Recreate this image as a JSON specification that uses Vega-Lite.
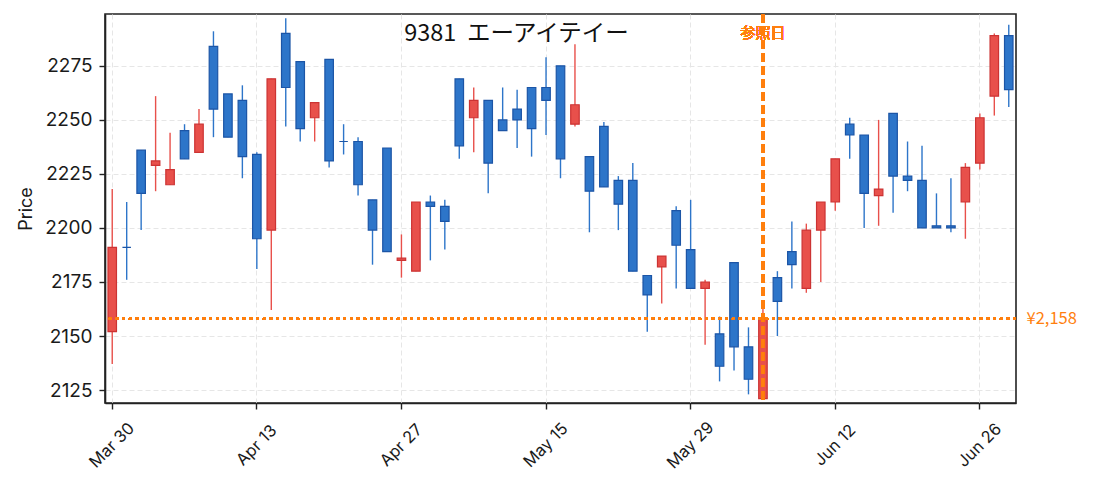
{
  "$schema": "https://vega.github.io/schema/vega-lite/v6.json",
  "width": 911,
  "height": 389,
  "autosize": "none",
  "padding": {"left": 105, "top": 14, "right": 79, "bottom": 89},
  "background": "white",
  "config": {
    "font": "Noto Sans CJK JP",
    "view": {"stroke": "#222222", "strokeWidth": 1.6},
    "axis": {
      "labelFont": "Inter",
      "titleFont": "Inter",
      "labelFontSize": 19,
      "labelColor": "#1a1a1a",
      "tickColor": "#222222",
      "domainColor": "#222222",
      "tickSize": 6,
      "tickWidth": 1.4,
      "domainWidth": 1.6,
      "gridColor": "#e6e6e6",
      "gridDash": [5, 3],
      "gridWidth": 1
    }
  },
  "title": {
    "text": "9381\u00a0\u00a0エーアイテイー",
    "font": "Noto Sans CJK JP",
    "fontSize": 23.5,
    "fontWeight": "normal",
    "color": "#111111",
    "anchor": "middle",
    "baseline": "middle",
    "offset": 0,
    "dy": 45,
    "dx": -44
  },
  "data": {
    "values": [
      {"date": "2020-03-30", "open": 2152, "high": 2218, "low": 2137, "close": 2191},
      {"date": "2020-03-31", "open": 2191, "high": 2212, "low": 2176, "close": 2191},
      {"date": "2020-04-01", "open": 2236, "high": 2236, "low": 2199, "close": 2216},
      {"date": "2020-04-02", "open": 2229, "high": 2261, "low": 2217, "close": 2231},
      {"date": "2020-04-03", "open": 2220, "high": 2244, "low": 2220, "close": 2227},
      {"date": "2020-04-06", "open": 2245, "high": 2248, "low": 2232, "close": 2232},
      {"date": "2020-04-07", "open": 2235, "high": 2255, "low": 2235, "close": 2248},
      {"date": "2020-04-08", "open": 2284, "high": 2291, "low": 2242, "close": 2255},
      {"date": "2020-04-09", "open": 2262, "high": 2262, "low": 2242, "close": 2242},
      {"date": "2020-04-10", "open": 2259, "high": 2266, "low": 2223, "close": 2233},
      {"date": "2020-04-13", "open": 2234, "high": 2235, "low": 2181, "close": 2195},
      {"date": "2020-04-14", "open": 2199, "high": 2269, "low": 2162, "close": 2269},
      {"date": "2020-04-15", "open": 2290, "high": 2297, "low": 2247, "close": 2265},
      {"date": "2020-04-16", "open": 2277, "high": 2277, "low": 2240, "close": 2246},
      {"date": "2020-04-17", "open": 2251, "high": 2258, "low": 2240, "close": 2258},
      {"date": "2020-04-20", "open": 2278, "high": 2278, "low": 2228, "close": 2231},
      {"date": "2020-04-21", "open": 2240, "high": 2248, "low": 2234, "close": 2240},
      {"date": "2020-04-22", "open": 2240, "high": 2242, "low": 2215, "close": 2220},
      {"date": "2020-04-23", "open": 2213, "high": 2213, "low": 2183, "close": 2199},
      {"date": "2020-04-24", "open": 2237, "high": 2237, "low": 2189, "close": 2189},
      {"date": "2020-04-27", "open": 2185, "high": 2197, "low": 2177, "close": 2186},
      {"date": "2020-04-28", "open": 2180, "high": 2212, "low": 2180, "close": 2212},
      {"date": "2020-04-30", "open": 2212, "high": 2215, "low": 2185, "close": 2210},
      {"date": "2020-05-01", "open": 2210, "high": 2213, "low": 2190, "close": 2203},
      {"date": "2020-05-07", "open": 2269, "high": 2269, "low": 2232, "close": 2238},
      {"date": "2020-05-08", "open": 2251, "high": 2265, "low": 2235, "close": 2259},
      {"date": "2020-05-11", "open": 2259, "high": 2259, "low": 2216, "close": 2230},
      {"date": "2020-05-12", "open": 2250, "high": 2265, "low": 2245, "close": 2245},
      {"date": "2020-05-13", "open": 2255, "high": 2264, "low": 2237, "close": 2250},
      {"date": "2020-05-14", "open": 2265, "high": 2265, "low": 2233, "close": 2246},
      {"date": "2020-05-15", "open": 2265, "high": 2279, "low": 2243, "close": 2259},
      {"date": "2020-05-18", "open": 2275, "high": 2275, "low": 2223, "close": 2232},
      {"date": "2020-05-19", "open": 2248, "high": 2285, "low": 2247, "close": 2257},
      {"date": "2020-05-20", "open": 2233, "high": 2233, "low": 2198, "close": 2217},
      {"date": "2020-05-21", "open": 2247, "high": 2249, "low": 2219, "close": 2219},
      {"date": "2020-05-22", "open": 2222, "high": 2224, "low": 2199, "close": 2211},
      {"date": "2020-05-25", "open": 2222, "high": 2230, "low": 2180, "close": 2180},
      {"date": "2020-05-26", "open": 2178, "high": 2178, "low": 2152, "close": 2169},
      {"date": "2020-05-27", "open": 2182, "high": 2187, "low": 2165, "close": 2187},
      {"date": "2020-05-28", "open": 2208, "high": 2210, "low": 2172, "close": 2192},
      {"date": "2020-05-29", "open": 2190, "high": 2213, "low": 2172, "close": 2172},
      {"date": "2020-06-01", "open": 2172, "high": 2176, "low": 2146, "close": 2175},
      {"date": "2020-06-02", "open": 2151, "high": 2159, "low": 2129, "close": 2136},
      {"date": "2020-06-03", "open": 2184, "high": 2184, "low": 2134, "close": 2145},
      {"date": "2020-06-04", "open": 2145, "high": 2154, "low": 2123, "close": 2130},
      {"date": "2020-06-05", "open": 2121, "high": 2164, "low": 2121, "close": 2158},
      {"date": "2020-06-08", "open": 2177, "high": 2180, "low": 2150, "close": 2166},
      {"date": "2020-06-09", "open": 2189, "high": 2203, "low": 2172, "close": 2183},
      {"date": "2020-06-10", "open": 2172, "high": 2202, "low": 2170, "close": 2199},
      {"date": "2020-06-11", "open": 2199, "high": 2212, "low": 2175, "close": 2212},
      {"date": "2020-06-12", "open": 2212, "high": 2232, "low": 2208, "close": 2232},
      {"date": "2020-06-15", "open": 2248, "high": 2251, "low": 2232, "close": 2243},
      {"date": "2020-06-16", "open": 2243, "high": 2243, "low": 2200, "close": 2216},
      {"date": "2020-06-17", "open": 2215, "high": 2250, "low": 2201, "close": 2218},
      {"date": "2020-06-18", "open": 2253, "high": 2253, "low": 2207, "close": 2224},
      {"date": "2020-06-19", "open": 2224, "high": 2240, "low": 2217, "close": 2222},
      {"date": "2020-06-22", "open": 2222, "high": 2238, "low": 2200, "close": 2200},
      {"date": "2020-06-23", "open": 2201, "high": 2216, "low": 2200, "close": 2200},
      {"date": "2020-06-24", "open": 2201, "high": 2223, "low": 2198, "close": 2200},
      {"date": "2020-06-25", "open": 2212, "high": 2230, "low": 2195, "close": 2228},
      {"date": "2020-06-26", "open": 2230, "high": 2253, "low": 2227, "close": 2251},
      {"date": "2020-06-29", "open": 2261, "high": 2290, "low": 2252, "close": 2289},
      {"date": "2020-06-30", "open": 2289, "high": 2294, "low": 2256, "close": 2264}
    ]
  },
  "layer": [
    {
      "mark": {"type": "rule", "strokeWidth": 1.4},
      "encoding": {
        "x": {
          "field": "date",
          "type": "ordinal",
          "sort": null,
          "scale": {"type": "band", "paddingInner": 0, "paddingOuter": 0},
          "axis": {
            "title": null,
            "values": ["2020-03-30", "2020-04-13", "2020-04-27", "2020-05-15", "2020-05-29", "2020-06-12", "2020-06-26"],
            "labelExpr": "utcFormat(toDate(datum.value), '%b %d')",
            "labelAngle": -45,
            "labelAlign": "center",
            "labelBaseline": "middle",
            "labelFontSize": 16.5,
            "labelPadding": 36,
            "bandPosition": 0.5,
            "grid": true
          }
        },
        "y": {
          "field": "low",
          "type": "quantitative",
          "scale": {"domain": [2119, 2299], "nice": false, "zero": false},
          "axis": {
            "title": "Price",
            "titleFontSize": 18,
            "titleFontWeight": "normal",
            "titleColor": "#1a1a1a",
            "titlePadding": 9,
            "format": "d",
            "labelPadding": 7,
            "values": [2125, 2150, 2175, 2200, 2225, 2250, 2275],
            "grid": true
          }
        },
        "y2": {"field": "high"},
        "color": {
          "condition": {"test": "datum.close > datum.open", "value": "#e8504b"},
          "value": "#2d75c9"
        }
      }
    },
    {
      "mark": {"type": "bar", "width": 8.5, "strokeWidth": 1.2},
      "encoding": {
        "x": {"field": "date", "type": "ordinal", "sort": null},
        "y": {"field": "open", "type": "quantitative", "axis": null},
        "y2": {"field": "close"},
        "fill": {
          "condition": {"test": "datum.close > datum.open", "value": "#e8504b"},
          "value": "#2d75c9"
        },
        "stroke": {
          "condition": {"test": "datum.close > datum.open", "value": "#cc3333"},
          "value": "#1c55a6"
        }
      }
    },
    {
      "mark": {"type": "rule", "color": "#ff7f0e", "strokeWidth": 1.8, "strokeDash": [2.7, 4]},
      "encoding": {
        "y": {
          "datum": 2158,
          "type": "quantitative",
          "axis": {
            "orient": "right",
            "title": null,
            "values": [2158],
            "labelExpr": "'¥2,158'",
            "labelFont": "Noto Sans CJK JP",
            "labelColor": "#ff7f0e",
            "labelFontSize": 16.5,
            "ticks": false,
            "domain": false,
            "grid": false,
            "labelPadding": 10
          }
        }
      }
    },
    {
      "mark": {"type": "rule", "color": "#ff7f0e", "strokeWidth": 2.5, "strokeDash": [9, 4]},
      "encoding": {
        "x": {"datum": "2020-06-05", "type": "ordinal"}
      }
    },
    {
      "mark": {"type": "text", "color": "#ff7f0e", "fontSize": 15, "font": "Noto Sans CJK JP", "align": "center", "baseline": "middle", "opacity": 0.7},
      "encoding": {
        "x": {"datum": "2020-06-05", "type": "ordinal"},
        "y": {"datum": 2290, "type": "quantitative", "axis": null},
        "text": {"value": "参照日"}
      }
    }
  ],
  "resolve": {"axis": {"y": "independent"}}
}
